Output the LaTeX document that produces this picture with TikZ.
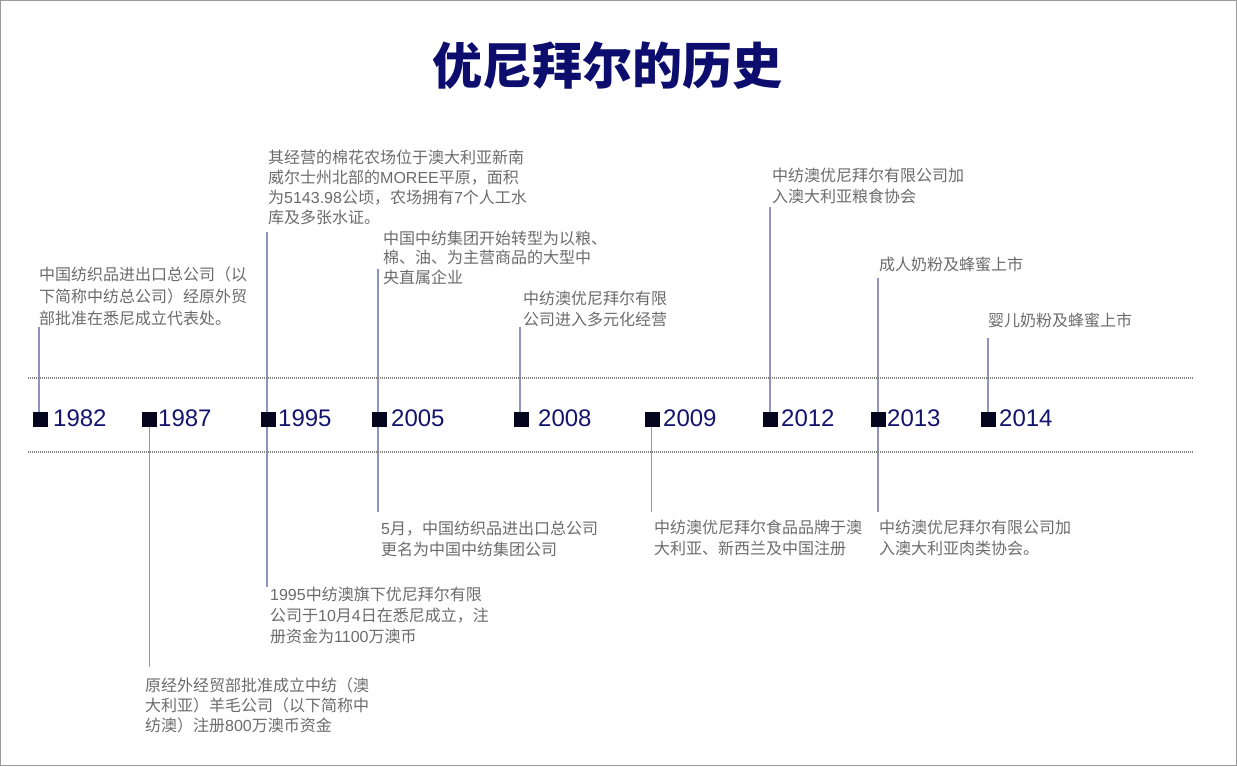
\documentclass[tikz,border=0pt]{standalone}
\usepackage{fontspec}
\setmainfont{Noto Sans CJK SC}
\newfontfamily\lat{Liberation Sans}
\usetikzlibrary{backgrounds}
\definecolor{txtgray}{HTML}{6B6B6B}
\definecolor{yearblue}{HTML}{14146E}
\definecolor{titleblue}{HTML}{0D0D6E}
\definecolor{sqblack}{HTML}{05051E}
\definecolor{linepurple}{HTML}{8E93C4}
\definecolor{dotgray}{HTML}{808080}
\definecolor{framegray}{HTML}{9A9A9A}
\begin{document}
\begin{tikzpicture}[x=1pt,y=-1pt,
  txt/.style={anchor=base west, inner sep=0pt, align=left, font=\fontsize{16}{21}\selectfont, text=txtgray},
  yr/.style={anchor=base west, inner sep=0pt, font=\lat\fontsize{24}{28}\selectfont, text=yearblue},
  sq/.style={fill=sqblack, minimum size=15pt, inner sep=0pt, draw=none},
  vline/.style={draw=linepurple, line width=1.9pt},
  dotline/.style={draw=dotgray, line width=1.3pt, dash pattern=on 1pt off 1pt}]
\path[use as bounding box] (0,0) rectangle (1237,766);
\draw[framegray, line width=1pt] (0.5,0.5) rectangle (1236,765.5);

\node[font=\bfseries\fontsize{50}{60}\selectfont, text=titleblue, anchor=base, inner sep=0pt] (title) at (607,84) {优尼拜尔的历史};

% dotted guide lines
\coordinate (d1a) at (28,378); \coordinate (d1b) at (1193,378);
\coordinate (d2a) at (28,452); \coordinate (d2b) at (1193,452);
\draw[dotline] (d1a) -- (d1b);
\draw[dotline] (d2a) -- (d2b);

% squares
\node[sq] (s1982) at (40,419) {};
\node[sq] (s1987) at (149,419) {};
\node[sq] (s1995) at (268,419) {};
\node[sq] (s2005) at (379,419) {};
\node[sq] (s2008) at (521,419) {};
\node[sq] (s2009) at (652,419) {};
\node[sq] (s2012) at (770,419) {};
\node[sq] (s2013) at (878,419) {};
\node[sq] (s2014) at (988,419) {};

% years
\node[yr] (y1982) at (53,426) {1982};
\node[yr] (y1987) at (158,426) {1987};
\node[yr] (y1995) at (278,426) {1995};
\node[yr] (y2005) at (391,426) {2005};
\node[yr] (y2008) at (538,426) {2008};
\node[yr] (y2009) at (663,426) {2009};
\node[yr] (y2012) at (781,426) {2012};
\node[yr] (y2013) at (887,426) {2013};
\node[yr] (y2014) at (999,426) {2014};

% texts above (anchor = baseline of last line)
\node[txt, font=\fontsize{16}{22}\selectfont] (t1982) at (39,324) {中国纺织品进出口总公司（以\\下简称中纺总公司）经原外贸\\部批准在悉尼成立代表处。};
\node[txt, font=\fontsize{16}{19.7}\selectfont] (t1995) at (268,223) {其经营的棉花农场位于澳大利亚新南\\威尔士州北部的{\lat MOREE}平原，面积\\为{\lat 5143.98}公顷，农场拥有{\lat 7}个人工水\\库及多张水证。};
\node[txt, font=\fontsize{16}{19.5}\selectfont] (t2005) at (383,283) {中国中纺集团开始转型为以粮、\\棉、油、为主营商品的大型中\\央直属企业};
\node[txt] (t2008) at (523,325) {中纺澳优尼拜尔有限\\公司进入多元化经营};
\node[txt] (t2012) at (772,202) {中纺澳优尼拜尔有限公司加\\入澳大利亚粮食协会};
\node[txt] (t2013) at (879,270) {成人奶粉及蜂蜜上市};
\node[txt] (t2014) at (988,326) {婴儿奶粉及蜂蜜上市};

% texts below
\node[txt, font=\fontsize{16}{20}\selectfont] (b1987) at (145,731) {原经外经贸部批准成立中纺（澳\\大利亚）羊毛公司（以下简称中\\纺澳）注册{\lat 800}万澳币资金};
\node[txt] (b1995) at (270,642) {{\lat 1995}中纺澳旗下优尼拜尔有限\\公司于{\lat 10}月{\lat 4}日在悉尼成立，注\\册资金为{\lat 1100}万澳币};
\node[txt] (b2005) at (381,555) {{\lat 5}月，中国纺织品进出口总公司\\更名为中国中纺集团公司};
\node[txt] (b2009) at (654,554) {中纺澳优尼拜尔食品品牌于澳\\大利亚、新西兰及中国注册};
\node[txt] (b2013) at (879,554) {中纺澳优尼拜尔有限公司加\\入澳大利亚肉类协会。};

% connector end points
\coordinate (u1982) at (39,327);
\coordinate (l1987) at (149.5,667);
\coordinate (u1995) at (267.3,232);
\coordinate (l1995) at (267.3,587);
\coordinate (u2005) at (377.6,269);
\coordinate (l2005) at (377.6,512);
\coordinate (u2008) at (520.4,327);
\coordinate (l2009) at (651.5,512);
\coordinate (u2012) at (770,207);
\coordinate (u2013) at (877.8,278);
\coordinate (l2013) at (877.8,512);
\coordinate (u2014) at (988,338);

\begin{pgfonlayer}{background}
\draw[vline] (u1982) -- (u1982 |- s1982.center);
\draw[vline] (l1987 |- s1987.center) -- (l1987);
\draw[vline] (u1995) -- (l1995);
\draw[vline] (u2005) -- (l2005);
\draw[vline] (u2008) -- (u2008 |- s2008.center);
\draw[vline] (l2009 |- s2009.center) -- (l2009);
\draw[vline] (u2012) -- (u2012 |- s2012.center);
\draw[vline] (u2013) -- (l2013);
\draw[vline] (u2014) -- (u2014 |- s2014.center);
\end{pgfonlayer}
\end{tikzpicture}
\end{document}
